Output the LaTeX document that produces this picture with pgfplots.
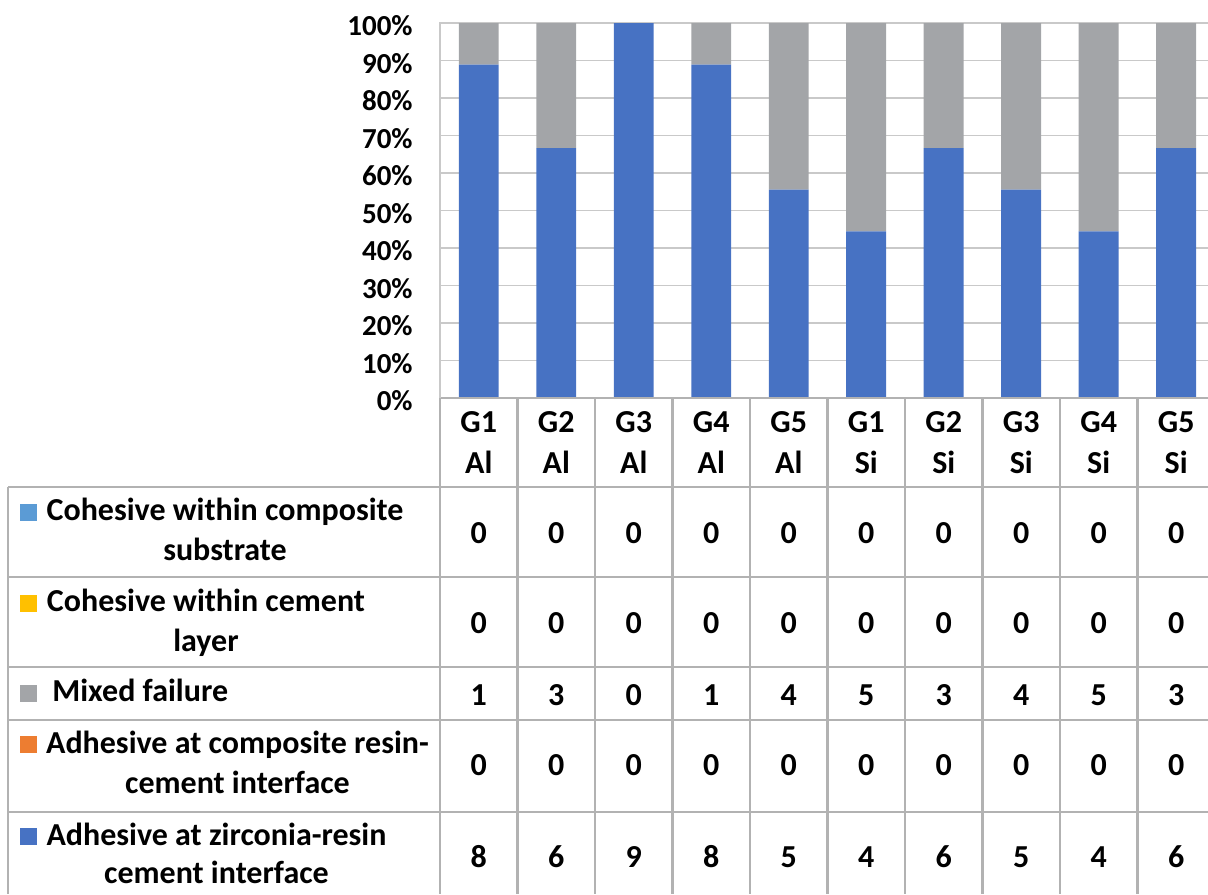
\documentclass[border=0pt]{standalone}
\usepackage{pgfplots}
\pgfplotsset{compat=1.18}
\usepackage{pgfplotstable}
\usepackage{fontspec}
\setmainfont{Carlito}

\definecolor{cohcomp}{HTML}{5B9BD5}
\definecolor{cohcem}{HTML}{FFC000}
\definecolor{mixed}{HTML}{A3A5A8}
\definecolor{adhcomp}{HTML}{ED7D31}
\definecolor{adhzr}{HTML}{4772C3}
\definecolor{gridc}{HTML}{C9C9C9}
\definecolor{tabc}{HTML}{B2B2B2}

% failure modes per group (counts, n = 9)
\pgfplotstableread{
x grp sub cc ce mx ac az
0 G1 Al 0 0 1 0 8
1 G2 Al 0 0 3 0 6
2 G3 Al 0 0 0 0 9
3 G4 Al 0 0 1 0 8
4 G5 Al 0 0 4 0 5
5 G1 Si 0 0 5 0 4
6 G2 Si 0 0 3 0 6
7 G3 Si 0 0 4 0 5
8 G4 Si 0 0 5 0 4
9 G5 Si 0 0 3 0 6
}\fails

\newcommand{\tot}{(\thisrow{cc}+\thisrow{ce}+\thisrow{mx}+\thisrow{ac}+\thisrow{az})}

\tikzset{
  lbl/.style={anchor=base, inner sep=0pt, text=black, font=\fontsize{16}{19.5}\selectfont\bfseries},
}

\begin{document}
\begin{tikzpicture}
\path[use as bounding box] (0,0) rectangle (604pt,-447pt);

\pgfplotsset{
  geom/.style={
    at={(220pt,-199pt)}, anchor=south west,
    scale only axis, width=384pt, height=187.5pt,
    xmin=-0.5, xmax=9.41, ymin=0, ymax=100,
    clip=false,
  },
  cell/.style={draw=none, mark=none,
    nodes near coords={\pgfplotspointmeta},
    point meta=explicit symbolic,
    nodes near coords style={lbl}},
}

\begin{axis}[
    geom,
    ybar stacked,
    bar width=0.516,
    axis line style={draw=none},
    xtick=\empty,
    ytick={0,10,...,100},
    yticklabels={0\%,10\%,20\%,30\%,40\%,50\%,60\%,70\%,80\%,90\%,100\%},
    major tick length=0pt,
    ymajorgrids=true,
    grid style={gridc, line width=0.8pt},
    yticklabel style={font=\fontsize{14.5}{16}\selectfont\bfseries,
        anchor=east, inner sep=0pt, xshift=-13.5pt, yshift=-1.5pt},
]
\addplot[fill=adhzr, draw=none] table[x=x, y expr=100*\thisrow{az}/\tot] {\fails};
\addplot[fill=adhcomp, draw=none] table[x=x, y expr=100*\thisrow{ac}/\tot] {\fails};
\addplot[fill=mixed, draw=none] table[x=x, y expr=100*\thisrow{mx}/\tot] {\fails};
\addplot[fill=cohcem, draw=none] table[x=x, y expr=100*\thisrow{ce}/\tot] {\fails};
\addplot[fill=cohcomp, draw=none] table[x=x, y expr=100*\thisrow{cc}/\tot] {\fails};
\end{axis}

% data table under the bars
\begin{axis}[geom, hide axis]
\addplot[cell] table[x=x, y expr=-9.33, meta=grp] {\fails};
\addplot[cell] table[x=x, y expr=-20, meta=sub] {\fails};
\addplot[cell] table[x=x, y expr=-38.67, meta=cc] {\fails};
\addplot[cell] table[x=x, y expr=-62.67, meta=ce] {\fails};
\addplot[cell] table[x=x, y expr=-81.87, meta=mx] {\fails};
\addplot[cell] table[x=x, y expr=-100.53, meta=ac] {\fails};
\addplot[cell] table[x=x, y expr=-125.07, meta=az] {\fails};
\end{axis}

% table rules
\begin{scope}[tabc, line width=1.1pt]
\draw (220pt,-199pt) -- (604pt,-199pt);
\foreach \py in {243.5,288.5,333.5,360,406}
  \draw (4pt,-\py pt) -- (604pt,-\py pt);
\draw (4pt,-243.5pt) -- (4pt,-447pt);
\draw (220pt,-199pt) -- (220pt,-447pt);
\foreach \k in {1,...,9}
  \draw ({220pt+38.75pt*\k},-199pt) -- ++(0,-248pt);
\end{scope}
\draw[gridc, line width=0.8pt] (220pt,-11pt) -- (220pt,-199pt);

% row labels with legend keys
\fill[cohcomp] (10pt,-260.35pt) rectangle ++(8.5pt,8.5pt);
\node[lbl] at (112.5pt,-260.35pt) {Cohesive within composite};
\node[lbl] at (112.5pt,-280pt) {substrate};
\fill[cohcem] (10pt,-305.85pt) rectangle ++(8.5pt,8.5pt);
\node[lbl] at (103pt,-305.85pt) {Cohesive within cement};
\node[lbl] at (103pt,-325.85pt) {layer};
\fill[mixed] (10pt,-351pt) rectangle ++(8.5pt,8.5pt);
\node[lbl, anchor=base west] at (26pt,-350.85pt) {Mixed failure};
\fill[adhcomp] (10pt,-376.65pt) rectangle ++(8.5pt,8.5pt);
\node[lbl] at (118.75pt,-376.65pt) {Adhesive at composite resin-};
\node[lbl] at (118.75pt,-396.65pt) {cement interface};
\fill[adhzr] (10pt,-422.5pt) rectangle ++(8.5pt,8.5pt);
\node[lbl] at (108.25pt,-422.5pt) {Adhesive at zirconia-resin};
\node[lbl] at (108.25pt,-441.5pt) {cement interface};
\end{tikzpicture}
\end{document}
